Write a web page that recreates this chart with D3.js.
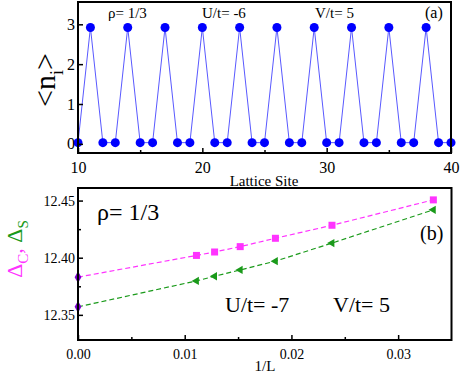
<!DOCTYPE html>
<html>
<head>
<meta charset="utf-8">
<script src="https://cdn.jsdelivr.net/npm/d3@7"></script>
<style>
  body { margin: 0; background: #fff; }
</style>
</head>
<body>
<div id="G"></div>
<script>
// panel (a): occupancy along the lattice
var sites = [10, 11, 12, 13, 14, 15, 16, 17, 18, 19, 20, 21, 22, 23, 24, 25,
  26, 27, 28, 29, 30, 31, 32, 33, 34, 35, 36, 37, 38, 39, 40];
var occupancy = [0.03, 2.92, 0.03, 0.03, 2.92, 0.03, 0.03, 2.92, 0.03, 0.03, 2.92,
  0.03, 0.03, 2.92, 0.03, 0.03, 2.92, 0.03, 0.03, 2.92, 0.03, 0.03, 2.92, 0.03,
  0.03, 2.92, 0.03, 0.03, 2.92, 0.03, 0.03];
var topXTicks = [10, 20, 30, 40];
var topXMinor = [15, 25, 35];
var topYTicks = [0, 1, 2, 3];

// panel (b): gaps vs 1/L (first point = extrapolation)
var invL = [0, 0.0111, 0.0128, 0.0152, 0.0185, 0.0238, 0.0333];
var deltaC = [12.383, 12.402, 12.405, 12.4097, 12.417, 12.4284, 12.4506];
var deltaS = [12.357, 12.3797, 12.3838, 12.3893, 12.397, 12.4128, 12.4419];
var botXTicks = [0, 0.01, 0.02, 0.03];
var botXMinor = [0.005, 0.015, 0.025];
var botYTicks = [12.35, 12.40, 12.45];
var botYMinor = [12.375, 12.425];

var SERIF = "'Liberation Serif', 'Times New Roman', 'DejaVu Serif', serif";

var svg = d3.select("#G").append("svg")
  .attr("width", 460).attr("height", 373)
  .attr("font-family", SERIF);

// ---------- panel (a)
var xa = d3.scaleLinear().domain([10, 40]).range([78, 451]);
var ya = d3.scaleLinear().domain([-0.23, 3.56]).range([153, 2]);

var ga = svg.append("g");
ga.append("path")
  .datum(sites.map((s, i) => [s, occupancy[i]]))
  .attr("fill", "none")
  .attr("stroke", "#5959ff")
  .attr("stroke-width", 1)
  .attr("d", d3.line().x(d => xa(d[0])).y(d => ya(d[1])));
ga.selectAll("circle").data(sites)
  .join("circle")
  .attr("cx", d => xa(d))
  .attr("cy", (d, i) => ya(occupancy[i]))
  .attr("r", 4.5)
  .attr("fill", "#0000ff");

// axes (inward ticks)
ga.append("g").attr("transform", "translate(0,153)")
  .call(d3.axisBottom(xa).tickValues(topXTicks).tickSize(-5).tickPadding(9))
  .call(g => g.select(".domain").remove());
ga.append("g").attr("transform", "translate(0,153)")
  .call(d3.axisBottom(xa).tickValues(topXMinor).tickSize(-3).tickFormat(""))
  .call(g => g.select(".domain").remove());
ga.append("g").attr("transform", "translate(78,0)")
  .call(d3.axisLeft(ya).tickValues(topYTicks).tickSize(-5).tickPadding(3).tickFormat(d3.format("d")))
  .call(g => g.select(".domain").remove());
ga.selectAll("g").attr("font-family", SERIF);
ga.selectAll(".tick text").attr("font-size", 16).attr("fill", "#000");
ga.selectAll(".tick line").attr("stroke", "#000").attr("stroke-width", 1.5);
ga.append("rect").attr("x", 78).attr("y", 2).attr("width", 373).attr("height", 151)
  .attr("fill", "none").attr("stroke", "#000").attr("stroke-width", 2);

ga.append("text").attr("x", 264).attr("y", 186).attr("text-anchor", "middle")
  .attr("font-size", 15).text("Lattice Site");
var ylab = ga.append("text").attr("transform", "translate(55,80) rotate(-90)")
  .attr("text-anchor", "middle").attr("font-size", 30);
ylab.append("tspan").text("<n");
ylab.append("tspan").attr("font-size", 18).attr("dy", 8).text("i");
ylab.append("tspan").attr("dy", -8).text(">");

ga.append("text").attr("x", 108).attr("y", 18).attr("font-size", 15).text("ρ= 1/3");
ga.append("text").attr("x", 202).attr("y", 18).attr("font-size", 15).text("U/t= -6");
ga.append("text").attr("x", 315).attr("y", 18).attr("font-size", 15).text("V/t= 5");
ga.append("text").attr("x", 425).attr("y", 18).attr("font-size", 16).text("(a)");

// ---------- panel (b)
var xb = d3.scaleLinear().domain([0, 0.035]).range([78, 451.5]);
var yb = d3.scaleLinear().domain([12.328, 12.461]).range([340, 188]);
var gb = svg.append("g");

var line = d3.line().x(d => xb(d[0])).y(d => yb(d[1]));
gb.append("path").datum(invL.map((v, i) => [v, deltaC[i]]))
  .attr("fill", "none").attr("stroke", "#ff33ff").attr("stroke-width", 1.2)
  .attr("stroke-dasharray", "5,3").attr("d", line);
gb.append("path").datum(invL.map((v, i) => [v, deltaS[i]]))
  .attr("fill", "none").attr("stroke", "#1a9a1a").attr("stroke-width", 1.2)
  .attr("stroke-dasharray", "5,3").attr("d", line);

var pts = invL.slice(1);
gb.selectAll("rect.sq").data(pts).join("rect").attr("class", "sq")
  .attr("x", d => xb(d) - 3.5).attr("y", (d, i) => yb(deltaC[i + 1]) - 3.5)
  .attr("width", 7).attr("height", 7).attr("fill", "#ff33ff");
var tri = d3.symbol().type(d3.symbolTriangle).size(30);
gb.selectAll("path.tri").data(pts).join("path").attr("class", "tri")
  .attr("d", tri)
  .attr("transform", (d, i) => "translate(" + xb(d) + "," + yb(deltaS[i + 1]) + ") rotate(-90)")
  .attr("fill", "#1a9a1a");
var dia = d3.symbol().type(d3.symbolDiamond).size(40);
[deltaC[0], deltaS[0]].forEach(v => {
  gb.append("path").attr("d", dia)
    .attr("transform", "translate(" + xb(invL[0]) + "," + yb(v) + ")")
    .attr("fill", "#7a00cc");
});

gb.append("g").attr("transform", "translate(0,340)")
  .call(d3.axisBottom(xb).tickValues(botXTicks).tickSize(-5).tickPadding(9).tickFormat(d3.format(".2f")))
  .call(g => g.select(".domain").remove());
gb.append("g").attr("transform", "translate(0,340)")
  .call(d3.axisBottom(xb).tickValues(botXMinor).tickSize(-3).tickFormat(""))
  .call(g => g.select(".domain").remove());
gb.append("g").attr("transform", "translate(78,0)")
  .call(d3.axisLeft(yb).tickValues(botYTicks).tickSize(-5).tickPadding(3).tickFormat(d3.format(".2f")))
  .call(g => g.select(".domain").remove());
gb.append("g").attr("transform", "translate(78,0)")
  .call(d3.axisLeft(yb).tickValues(botYMinor).tickSize(-3).tickFormat(""))
  .call(g => g.select(".domain").remove());
gb.selectAll("g").attr("font-family", SERIF);
gb.selectAll(".tick text").attr("font-size", 14).attr("fill", "#000");
gb.selectAll(".tick line").attr("stroke", "#000").attr("stroke-width", 1.5);
gb.append("rect").attr("x", 78).attr("y", 188).attr("width", 373.5).attr("height", 152)
  .attr("fill", "none").attr("stroke", "#000").attr("stroke-width", 2);

gb.append("text").attr("x", 265).attr("y", 371).attr("text-anchor", "middle")
  .attr("font-size", 15).text("1/L");
var ylab2 = gb.append("text").attr("transform", "translate(22,249) rotate(-90)")
  .attr("text-anchor", "middle").attr("font-size", 22);
ylab2.append("tspan").attr("fill", "#ff33ff").text("Δ");
ylab2.append("tspan").attr("fill", "#ff33ff").attr("font-size", 15).attr("dy", 6).text("C");
ylab2.append("tspan").attr("fill", "#ff33ff").attr("dy", -6).text(", ");
ylab2.append("tspan").attr("fill", "#1a9a1a").text("Δ");
ylab2.append("tspan").attr("fill", "#1a9a1a").attr("font-size", 15).attr("dy", 6).text("S");

gb.append("text").attr("x", 97).attr("y", 220).attr("font-size", 24).text("ρ= 1/3");
gb.append("text").attr("x", 420).attr("y", 240).attr("font-size", 20).text("(b)");
gb.append("text").attr("x", 225).attr("y", 312).attr("font-size", 22).text("U/t= -7");
gb.append("text").attr("x", 333).attr("y", 312).attr("font-size", 22).text("V/t= 5");
</script>
</body>
</html>
